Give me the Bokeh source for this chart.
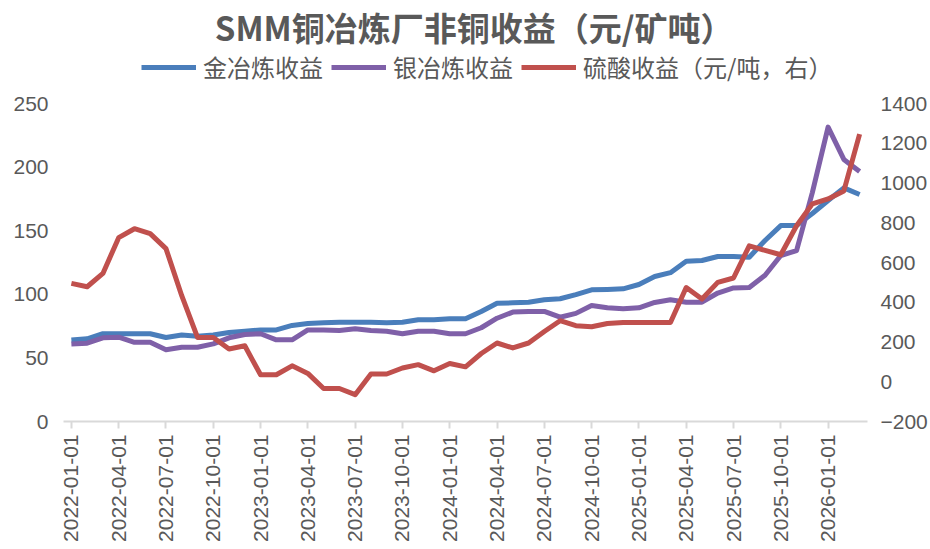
import numpy as np
from bokeh.plotting import figure
from bokeh.models import (Range1d, LinearAxis, FixedTicker, Legend, LegendItem, Label)
from bokeh.embed import file_html
from bokeh.resources import INLINE

# ---- data ----
months = ["2022-01", "2022-02", "2022-03", "2022-04", "2022-05", "2022-06", "2022-07", "2022-08", "2022-09", "2022-10", "2022-11", "2022-12",
          "2023-01", "2023-02", "2023-03", "2023-04", "2023-05", "2023-06", "2023-07", "2023-08", "2023-09", "2023-10", "2023-11", "2023-12",
          "2024-01", "2024-02", "2024-03", "2024-04", "2024-05", "2024-06", "2024-07", "2024-08", "2024-09", "2024-10", "2024-11", "2024-12",
          "2025-01", "2025-02", "2025-03", "2025-04", "2025-05", "2025-06", "2025-07", "2025-08", "2025-09", "2025-10", "2025-11", "2025-12",
          "2026-01", "2026-02", "2026-03"]

gold = [64, 65, 69, 69, 69, 69, 66, 68, 67, 68,
        70, 71, 72, 72, 75.5, 77, 77.6, 78, 78, 78,
        77.6, 78, 80, 80, 80.7, 80.7, 86.5, 93, 93.3, 93.8,
        95.7, 96.5, 99.8, 103.5, 103.8, 104.3, 107.7, 114, 117, 126,
        126.6, 129.7, 129.7, 129.2, 142.3, 154, 154, 163.5, 173.7, 183.7, 178.5]

silver = [61, 61.6, 65.8, 66.3, 62.3, 62.3, 56.4, 58.4, 58.4, 61,
          65.8, 68.4, 69, 64.2, 64.2, 72, 72, 71.5, 72.9, 71.5,
          71, 69, 71, 71, 69, 69, 73.7, 81.2, 86, 86.5,
          86.5, 82, 85, 91.2, 89.4, 88.6, 89.4, 93.6, 95.7, 93.8,
          93.8, 101, 105, 105.3, 115, 130.5, 134.4, 180, 231.4, 206, 196.5]

acid = [495, 478, 545, 725, 770, 745, 670, 433, 223, 223,
        165, 181, 35, 35, 80, 42, -34, -34, -65, 39,
        39, 69, 86, 55, 92, 75, 142, 195, 170, 195,
        253, 307, 282, 277, 293, 298, 298, 298, 298, 474,
        416, 500, 522, 684, 661, 639, 785, 895, 920, 960, 1246]

tick_labels = ["2022-01-01", "2022-04-01", "2022-07-01", "2022-10-01",
               "2023-01-01", "2023-04-01", "2023-07-01", "2023-10-01",
               "2024-01-01", "2024-04-01", "2024-07-01", "2024-10-01",
               "2025-01-01", "2025-04-01", "2025-07-01", "2025-10-01",
               "2026-01-01"]

left_ticks = [0, 50, 100, 150, 200, 250]
right_ticks = [-200, 0, 200, 400, 600, 800, 1000, 1200, 1400]

series_names = ["金冶炼收益", "银冶炼收益", "硫酸收益（元/吨，右）"]
title_text = "SMM铜冶炼厂非铜收益（元/矿吨）"

# ---- styling / layout ----
BLUE = "#4A7EBB"
PURPLE = "#7F60A8"
RED = "#C0504D"
GREY_TXT = "#595959"
AXIS_GREY = "#D9D9D9"
FONT = "Liberation Sans"
CJK = "Noto Sans CJK SC"

W, H = 930, 549
BORDER_BOTTOM = 128
FRAME_H = H - BORDER_BOTTOM          # frame runs up to the top of the canvas
AXIS_H = 318                          # pixel height of the 0..250 axis span
left_top = 250 * FRAME_H / AXIS_H     # extend range so 250 sits at the reference height
right_top = -200 + 1600 * FRAME_H / AXIS_H

x = list(range(len(months)))
n = len(months)

p = figure(width=W, height=H, output_backend="svg", toolbar_location=None, title=None,
           x_range=Range1d(-0.5, n - 0.5), y_range=Range1d(0, left_top),
           x_axis_location=None, y_axis_location=None,
           min_border_left=63, min_border_right=63, min_border_top=0, min_border_bottom=BORDER_BOTTOM,
           background_fill_color="white", border_fill_color="white", outline_line_color=None)
p.grid.visible = False
p.extra_y_ranges = {"r": Range1d(-200, right_top)}

# left axis
la = LinearAxis(ticker=FixedTicker(ticks=left_ticks), axis_line_color=None,
                major_tick_line_color=None, minor_tick_line_color=None,
                major_tick_in=0, major_tick_out=0, major_label_standoff=15,
                major_label_text_font=FONT, major_label_text_font_size="21px",
                major_label_text_color=GREY_TXT)
p.add_layout(la, "left")

# right axis
ra = LinearAxis(y_range_name="r", ticker=FixedTicker(ticks=right_ticks), axis_line_color=None,
                major_tick_line_color=None, minor_tick_line_color=None,
                major_tick_in=0, major_tick_out=0, major_label_standoff=13,
                major_label_text_font=FONT, major_label_text_font_size="21px",
                major_label_text_color=GREY_TXT)
p.add_layout(ra, "right")

# bottom axis with labels at category centres
label_pos = [i * 3 for i in range(len(tick_labels))]
xa = LinearAxis(ticker=FixedTicker(ticks=label_pos),
                major_label_overrides={k: v for k, v in zip(label_pos, tick_labels)},
                axis_line_color=AXIS_GREY, axis_line_width=2,
                major_tick_line_color=AXIS_GREY, major_tick_line_width=2,
                minor_tick_line_color=None,
                major_tick_in=0, major_tick_out=7, major_label_standoff=6,
                major_label_orientation=np.pi / 2,
                major_label_text_font=FONT, major_label_text_font_size="21px",
                major_label_text_color=GREY_TXT)
p.add_layout(xa, "below")

r1 = p.line(x, gold, line_color=BLUE, line_width=5, line_join="round")
r2 = p.line(x, silver, line_color=PURPLE, line_width=5, line_join="round")
r3 = p.line(x, acid, line_color=RED, line_width=5, line_join="round", y_range_name="r")

legend = Legend(items=[LegendItem(label=series_names[0], renderers=[r1]),
                       LegendItem(label=series_names[1], renderers=[r2]),
                       LegendItem(label=series_names[2], renderers=[r3])],
                orientation="horizontal", location=(78, 337),
                border_line_color=None, background_fill_alpha=0,
                label_text_font=CJK, label_text_font_size="24px", label_text_color=GREY_TXT,
                glyph_width=55, glyph_height=20, spacing=8, label_standoff=7,
                padding=0, margin=0)
p.add_layout(legend, "center")

# chart title, centred over the plot area
title = Label(x=25.55, y=left_top * (FRAME_H - 26) / FRAME_H, text=title_text,
              text_align="center", text_baseline="middle",
              text_font=CJK, text_font_size="33px", text_font_style="bold",
              text_color=GREY_TXT)
p.add_layout(title)

open("out.html", "w").write(file_html(p, INLINE))
